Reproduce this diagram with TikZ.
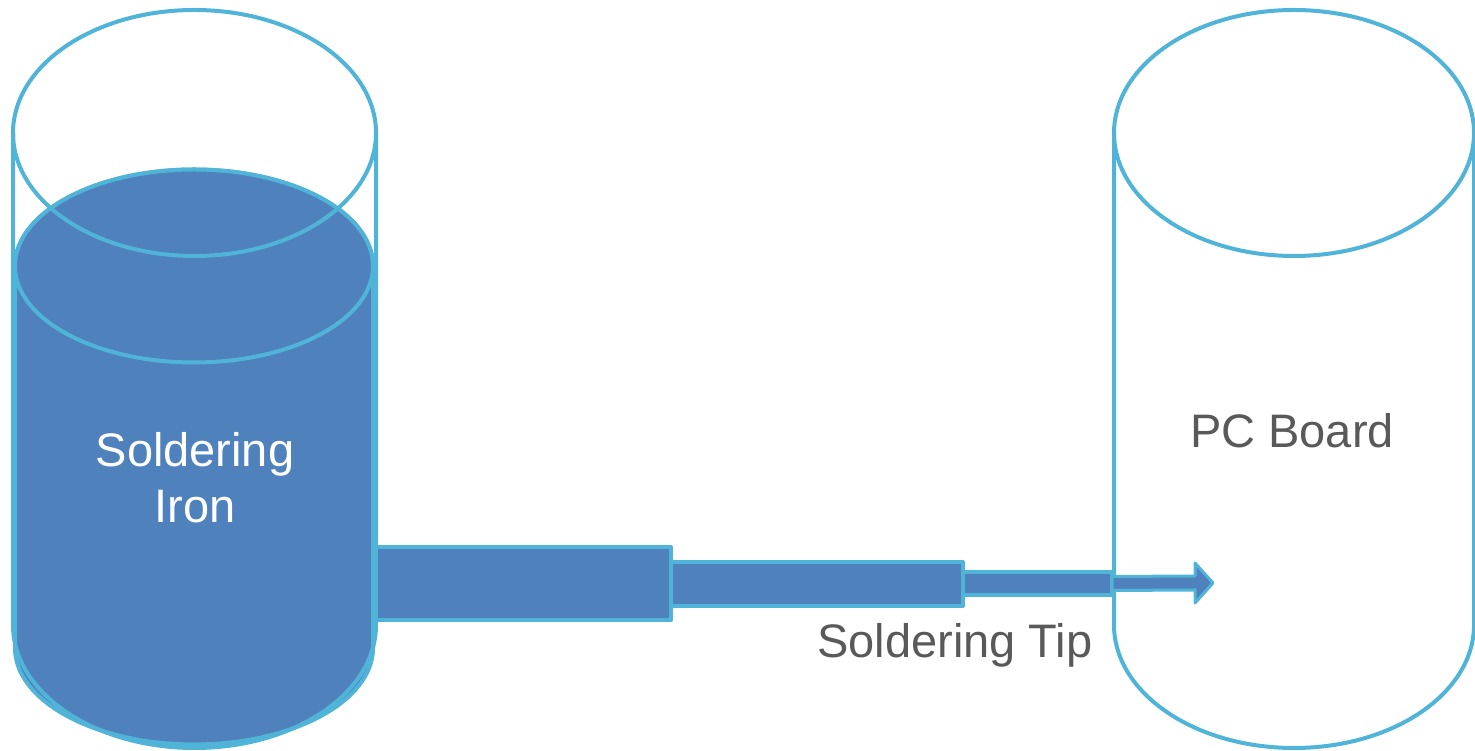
\documentclass[tikz,border=0pt]{standalone}
\usepackage{fontspec}
\setmainfont{Liberation Sans}
\definecolor{edgeblue}{HTML}{4FB4D8}
\definecolor{fillblue}{HTML}{4F81BD}
\definecolor{txtgray}{HTML}{595959}
\begin{document}
\begin{tikzpicture}[x=1pt,y=1pt,
  outline/.style={draw=edgeblue,line width=4pt,line join=round},
  solid/.style={outline,fill=fillblue},
  rodbox/.style={solid,inner sep=0pt,outer sep=0pt,anchor=south west},
  lbl/.style={anchor=base,inner sep=0pt,font=\fontsize{47}{54}\selectfont}]
\useasboundingbox (0,0) rectangle (1475,751);
% filled inner cylinder (soldering iron)
\path[solid] (15,485) -- (15,103) arc[start angle=180,end angle=360,x radius=179,y radius=96.5] -- (373,485) arc[start angle=0,end angle=180,x radius=179,y radius=96.5] -- cycle;
\path[solid] (194,485) ellipse [x radius=179,y radius=96.5];
% outer cylinder outline
\path[outline] (13,618) -- (13,126) arc[start angle=180,end angle=360,x radius=181.5,y radius=123] -- (376,618);
\path[outline] (194.5,618) ellipse [x radius=181.5,y radius=123];
% right cylinder (PC board)
\path[outline] (1114,618) -- (1114,126) arc[start angle=180,end angle=360,x radius=180,y radius=123] -- (1474,618);
\path[outline] (1294,618) ellipse [x radius=180,y radius=123];
% rods
\node[rodbox,minimum width=295pt,minimum height=73pt] (rodA) at (376,131) {};
\node[rodbox,minimum width=292pt,minimum height=44pt] (rodB) at (671,145) {};
\node[rodbox,minimum width=149pt,minimum height=23pt] (rodC) at (963,156) {};
% arrow
\coordinate (tip) at (1213,168);
\path[solid,line width=3pt] (rodC.east) ++(0,-7) -- (1195,161) -- (1195,148) -- (tip) -- (1195,188) -- (1195,175) -- ([yshift=7pt]rodC.east) -- cycle;
% labels
\node[lbl,text=white] (t1) at (195,284) {Soldering};
\node[lbl,text=white] (t2) at (195,228) {Iron};
\node[lbl,text=txtgray] (t3) at (955,93) {Soldering Tip};
\node[lbl,text=txtgray] (t4) at (1292,303) {PC Board};
\end{tikzpicture}
\end{document}
